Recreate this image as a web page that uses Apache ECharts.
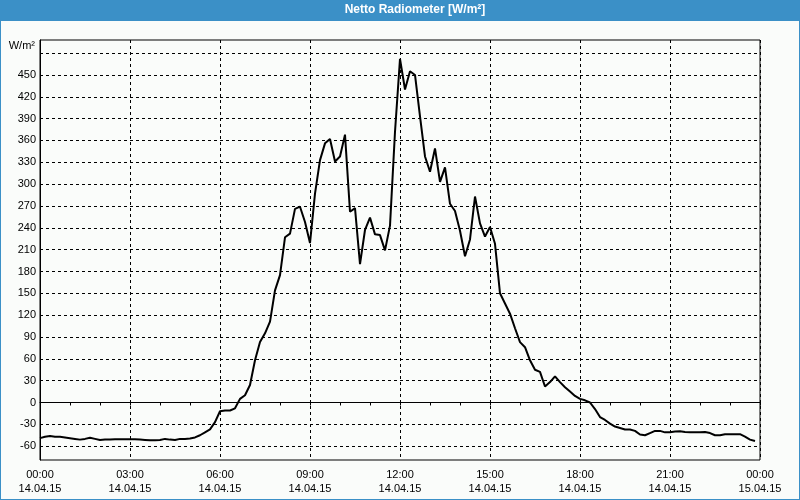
<!DOCTYPE html>
<html>
<head>
<meta charset="utf-8">
<script src="https://cdn.jsdelivr.net/npm/echarts@6/dist/echarts.min.js"></script>
<style>
html,body{margin:0;padding:0;background:#3b90c7;}
#c{width:800px;height:500px;}
</style>
</head>
<body>
<div id="c"></div>
<script>
// ---- data ----
const chartTitle = 'Netto Radiometer [W/m²]';
const unitLabel = 'W/m²';
const sampleStepMinutes = 10; // measurements every 10 minutes from 00:00 on 14.04.15
const radiation = [
  -49, -47, -46, -47, -47, -48, -49, -50, -51, -50,
  -48.5, -50, -51.5, -51, -51, -50.5, -50.5, -50.5, -50.5, -50.5,
  -51, -51.5, -52, -52, -51.5, -50, -51, -51.5, -50, -50,
  -49.5, -48, -45, -41, -37, -27, -12, -11, -11, -8,
  5, 10, 24, 58, 83, 95, 111, 154, 175, 227,
  232, 266, 269, 248, 219, 287, 333, 356, 362, 331,
  338, 368, 262, 267, 190, 237, 254, 231, 230, 209,
  243, 372, 472, 430, 455, 450, 393, 338, 317, 349,
  303, 323, 273, 263, 236, 201, 224, 283, 246, 228,
  241, 218, 150, 136, 122, 102, 83, 76, 58, 45,
  42, 22, 28, 36, 28, 21, 15, 9, 5, 3,
  0, -9, -20, -24, -29, -33, -35, -37, -37, -39,
  -44, -45, -42, -39, -39, -41, -41, -40, -39.5, -40.5,
  -41, -41, -41, -40.5, -42, -45, -45, -43.5, -43.5, -43.5,
  -43.5, -47, -51, -53
];
const yLabelValues = [-60, -30, 0, 30, 60, 90, 120, 150, 180, 210, 240, 270, 300, 330, 360, 390, 420, 450];
const yGridValues = [-60, -30, 0, 30, 60, 90, 120, 150, 180, 210, 240, 270, 300, 330, 360, 390, 420, 450, 480];
const yMin = -79, yMax = 498;
const xTimeLabels = ['00:00', '03:00', '06:00', '09:00', '12:00', '15:00', '18:00', '21:00', '00:00'];
const xDateLabels = ['14.04.15', '14.04.15', '14.04.15', '14.04.15', '14.04.15', '14.04.15', '14.04.15', '14.04.15', '15.04.15'];

// ---- build ----
const seriesData = radiation.map((v, i) => [i * sampleStepMinutes, v]);
const font = 'Liberation Sans';
const chart = echarts.init(document.getElementById('c'), null, {renderer: 'canvas'});
chart.setOption({
  backgroundColor: '#fafcfa',
  animation: false,
  grid: {left: 40, right: 40, top: 40, bottom: 40, show: true, borderColor: '#000', borderWidth: 1, backgroundColor: 'transparent'},
  graphic: [
    {type: 'rect', left: 0, top: 0, shape: {width: 800, height: 21}, style: {fill: '#3b90c7'}, z: 10},
    {type: 'rect', left: 0, top: 0, shape: {width: 1, height: 500}, style: {fill: '#3b90c7'}, z: 10},
    {type: 'rect', left: 799, top: 0, shape: {width: 1, height: 500}, style: {fill: '#3b90c7'}, z: 10},
    {type: 'rect', left: 0, top: 499, shape: {width: 800, height: 1}, style: {fill: '#3b90c7'}, z: 10},
    {type: 'text', x: 415, y: 10, style: {text: chartTitle, fill: '#fff', font: 'bold 12px "' + font + '"', textAlign: 'center', textVerticalAlign: 'middle'}, z: 11},
    {type: 'text', x: 35, y: 46, style: {text: unitLabel, fill: '#000', font: '11px "' + font + '"', textAlign: 'right', textVerticalAlign: 'middle'}, z: 11}
  ],
  xAxis: {
    type: 'value', min: 0, max: 1440, interval: 180,
    axisLine: {show: true, lineStyle: {color: '#000', width: 1}},
    axisTick: {show: true, length: 3, lineStyle: {color: '#000'}},
    minorTick: {show: true, splitNumber: 3, length: 3, lineStyle: {color: '#000'}},
    splitLine: {show: true, lineStyle: {color: '#000', type: [3, 3], width: 1}},
    axisLabel: {
      margin: 8, fontFamily: font, fontSize: 11, color: '#000', lineHeight: 14,
      showMinLabel: true, showMaxLabel: true,
      formatter: v => { const k = Math.round(v / 180); return xTimeLabels[k] + '\n' + xDateLabels[k]; }
    }
  },
  yAxis: {
    type: 'value', min: yMin, max: yMax,
    axisLine: {show: true, lineStyle: {color: '#000', width: 1}},
    axisTick: {show: false, customValues: yGridValues},
    splitLine: {show: true, lineStyle: {color: '#000', type: [3, 3], width: 1}},
    axisLabel: {customValues: yLabelValues, margin: 4, fontFamily: font, fontSize: 11, color: '#000'}
  },
  series: [{
    type: 'line', data: seriesData, showSymbol: false, symbol: 'none',
    lineStyle: {color: '#000', width: 2}, itemStyle: {color: '#000'}, smooth: false, z: 5
  }]
});
</script>
</body>
</html>
